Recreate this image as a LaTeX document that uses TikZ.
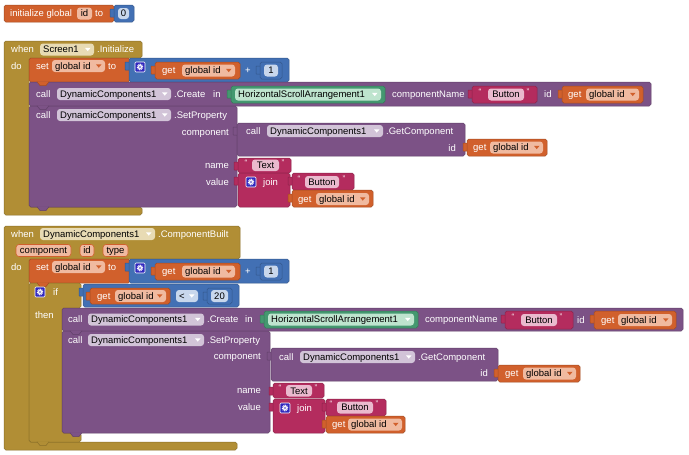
\documentclass[tikz,border=0pt]{standalone}
\usepackage{fontspec}
\setmainfont{Liberation Sans}
\definecolor{cOr}{RGB}{209,96,44}
\definecolor{cOrF}{RGB}{240,186,160}
\definecolor{cBl}{RGB}{66,112,180}
\definecolor{cBlF}{RGB}{200,215,236}
\definecolor{cPu}{RGB}{124,82,134}
\definecolor{cPuF}{RGB}{210,196,216}
\definecolor{cGr}{RGB}{68,152,112}
\definecolor{cGrF}{RGB}{190,228,206}
\definecolor{cPk}{RGB}{180,44,94}
\definecolor{cPkF}{RGB}{234,186,206}
\definecolor{cGo}{RGB}{177,142,53}
\definecolor{cGoF}{RGB}{232,219,180}
\definecolor{cGear}{RGB}{48,40,190}
\newcommand\fs{\fontsize{9.5}{11}\selectfont}
\tikzset{
  blk/.style={fill=#1, draw=#1!78!black, line width=0.5pt, rounded corners=1.8pt},
  lbl/.style={text=white, font=\fs, inner sep=0pt, text height=6.9pt, text depth=0pt, anchor=west},
  ftxt/.style={text=black, font=\fs, inner sep=0pt, text height=6.9pt, text depth=0pt},
  qt/.style={text=white, font=\fontsize{8}{9}\selectfont, inner sep=0pt},
}
\newcounter{nc}
% label
\newcommand\Lb[3][]{\stepcounter{nc}\node[lbl,#1] (n\arabic{nc}) at (#2) {#3};}
% centred field
\newcommand\Fd[6]{\fill[#1, rounded corners=3pt] (#2,#3) rectangle (#4,#5);
  \stepcounter{nc}\node[ftxt] (n\arabic{nc}) at ({(#2+#4)/2},{(#3+#5)/2}) {#6};}
% dropdown field
\newcommand\Dd[7]{\fill[#1, rounded corners=3pt] (#3,#4) rectangle (#5,#6);
  \stepcounter{nc}\node[ftxt, anchor=west] (n\arabic{nc}) at ({#3+3},{(#4+#6)/2}) {#7};
  \fill[#2] ({#5-9},{(#4+#6)/2-1.6}) -- ({#5-3.5},{(#4+#6)/2-1.6}) -- ({#5-6.25},{(#4+#6)/2+1.6}) -- cycle;}
% value block with output tab
\newcommand\Vb[5]{\path[blk=#1, rounded corners=0.5pt] ({#2-4},{#3+4}) rectangle ({#2+1},{#3+12});
  \path[blk=#1] (#2,#3) rectangle (#4,#5);}
% gear
\newcommand\Gear[2]{\filldraw[fill=cGear, draw=white, line width=0.7pt, rounded corners=1pt] (#1,#2) rectangle ({#1+10},{#2+10});
  \draw[white, line width=1.4pt, dash pattern=on 0.8pt off 0.8pt] ({#1+5},{#2+5}) circle (2.6pt);
  \fill[white] ({#1+5},{#2+5}) circle (2pt);
  \fill[cGear] ({#1+5},{#2+5}) circle (0.9pt);}
% quote mark
\newcommand\Qt[3]{\stepcounter{nc}\node[qt] (n\arabic{nc}) at (#1,#2) {#3};}
% statement nub
\newcommand\Nb[3]{\draw[fill=#1, draw=#1!78!black, line width=0.5pt] (#2,{#3-0.3}) -- ({#2+3},{#3+3.5}) -- ({#2+9},{#3+3.5}) -- ({#2+12},{#3-0.3});}
% parameter field
\newcommand\Pm[5]{\filldraw[fill=cOrF, draw=cOr, line width=0.6pt, rounded corners=3pt] (#1,#2) rectangle (#3,#4);
  \stepcounter{nc}\node[ftxt] (n\arabic{nc}) at ({(#1+#3)/2},{(#2+#4)/2}) {#5};}
\begin{document}
\begin{tikzpicture}[x=1pt,y=-1pt]
\useasboundingbox (0,0) rectangle (689,455);
\fill[white] (0,0) rectangle (689,455);

% ---------- initialize global ----------
\path[blk=cOr] (4,5) rectangle (114,22);
\Lb{10,13.5}{initialize global}
\Fd{cOrF}{77}{7.5}{92}{19.5}{id}
\Lb{95,13.5}{to}
\Vb{cBl}{114}{5}{134}{22}
\Fd{cBlF}{118}{8}{129}{19}{0}

% ---------- event 1 ----------
\path[blk=cGo] (4,41) -- (142,41) -- (142,58) -- (29,58) -- (29,207) -- (142,207) -- (142,215) -- (4,215) -- cycle;
\Lb{11,49.5}{when}
\Dd{cGoF}{white}{40}{43.5}{94}{55.5}{Screen1}
\Lb{97,49.5}{.Initialize}
\Lb{11,66}{do}

% set 1
\path[blk=cOr] (29,58) rectangle (130,82);
\Lb{36,66}{set}
\Dd{cOrF}{cOr}{52}{60}{105}{72}{global id}
\Lb{108,66}{to}
\Vb{cBl}{129}{58}{289}{82}
\Gear{135}{62}
\Vb{cOr}{155}{62}{240}{79}
\Lb{162,70.5}{get}
\Dd{cOrF}{cOr}{182}{64.5}{235}{76.5}{global id}
\Lb{245,70.5}{+}
\Vb{cBl}{260}{62}{282}{79}
\Fd{cBlF}{264}{64.5}{278}{76.5}{1}

% create 1
\path[blk=cPu] (29,82) rectangle (651,106);
\Nb{cOr}{37}{82}
\Lb{36,94}{call}
\Dd{cPuF}{white}{57}{88}{171}{100}{DynamicComponents1}
\Lb{174,94}{.Create}
\Lb{213,94}{in}
\Vb{cGr}{231}{86}{385}{103}
\Dd{cGrF}{white}{235}{88.5}{381}{100.5}{HorizontalScrollArrangement1}
\Lb{392,94}{componentName}
\Vb{cPk}{472}{86}{537}{103}
\Qt{480}{92}{“}
\Fd{cPkF}{488}{88.5}{524}{100.5}{Button}
\Qt{528}{92}{”}
\Lb{544,94.5}{id}
\Vb{cOr}{562}{86}{643}{103}
\Lb{568,94.5}{get}
\Dd{cOrF}{cOr}{586}{88.5}{639}{100.5}{global id}

% setproperty 1
\path[blk=cPu] (29,106) rectangle (237,207);
\Nb{cPu}{37}{106}
\Nb{cPu}{37}{207}
\Lb{36,115}{call}
\Dd{cPuF}{white}{57}{109}{171}{121}{DynamicComponents1}
\Lb{174,115}{.SetProperty}
\Lb[anchor=east]{229,132}{component}
\Lb[anchor=east]{229,165}{name}
\Lb[anchor=east]{229,182}{value}

\Vb{cPu}{237}{123}{465}{156}
\Lb{246,131}{call}
\Dd{cPuF}{white}{267}{125}{383}{137}{DynamicComponents1}
\Lb{386,131}{.GetComponent}
\Lb[anchor=east]{456,148}{id}
\Vb{cOr}{467}{139}{547}{156}
\Lb{473,147.5}{get}
\Dd{cOrF}{cOr}{490}{141.5}{543}{153.5}{global id}

\Vb{cPk}{238}{158}{291}{173}
\Qt{246}{163}{“}
\Fd{cPkF}{252}{159.5}{279}{171}{Text}
\Qt{283}{163}{”}

\Vb{cPk}{238}{173}{290}{207}
\Gear{246}{177}
\Lb{263,182}{join}
\Vb{cPk}{292}{173}{354}{190}
\Qt{299}{179}{“}
\Fd{cPkF}{305}{176}{339}{188}{Button}
\Qt{344}{179}{”}
\Vb{cOr}{292}{190}{373}{207}
\Lb{298,199}{get}
\Dd{cOrF}{cOr}{316}{193}{369}{205}{global id}

% ---------- event 2 ----------
\path[blk=cGo] (4,226) -- (240,226) -- (240,259) -- (29,259) -- (29,442) -- (237,442) -- (237,450) -- (4,450) -- cycle;
\Lb{11,234}{when}
\Dd{cGoF}{white}{40}{228}{155}{240}{DynamicComponents1}
\Lb{158,234}{.ComponentBuilt}
\Pm{16}{244.5}{71}{256.5}{component}
\Pm{80}{244.5}{94}{256.5}{id}
\Pm{103}{244.5}{128}{256.5}{type}
\Lb{11,267}{do}

% set 2
\path[blk=cOr] (29,259) rectangle (130,283);
\Lb{36,267}{set}
\Dd{cOrF}{cOr}{52}{261}{105}{273}{global id}
\Lb{108,267}{to}
\Vb{cBl}{129}{259}{289}{283}
\Gear{135}{263}
\Vb{cOr}{155}{263}{240}{280}
\Lb{162,271.5}{get}
\Dd{cOrF}{cOr}{182}{265.5}{235}{277.5}{global id}
\Lb{245,271.5}{+}
\Vb{cBl}{260}{263}{282}{280}
\Fd{cBlF}{264}{265.5}{278}{277.5}{1}

% if
\path[blk=cGo] (29,283) -- (81,283) -- (81,308) -- (62,308) -- (62,433) -- (81,433) -- (81,442) -- (29,442) -- cycle;
\Nb{cOr}{37}{283}
\Nb{cGo}{37}{442}
\Gear{35}{287}
\Lb{53,292}{if}
\Lb{35,315}{then}
\Vb{cBl}{83}{284}{239}{307}
\Vb{cOr}{90}{288}{170}{304}
\Lb{97,296}{get}
\Dd{cOrF}{cOr}{115}{290}{166}{302}{global id}
\Dd{cBlF}{white}{176}{290}{198}{302}{<}
\Vb{cBl}{207}{288}{232}{304}
\Fd{cBlF}{211}{290}{228}{302}{20}

% create 2
\path[blk=cPu] (62,308) rectangle (683,331);
\Lb{68,319.5}{call}
\Dd{cPuF}{white}{88}{313.5}{204}{325.5}{DynamicComponents1}
\Lb{207,319.5}{.Create}
\Lb{245,319.5}{in}
\Vb{cGr}{264}{311}{418}{328}
\Dd{cGrF}{white}{268}{313.5}{414}{325.5}{HorizontalScrollArrangement1}
\Lb{425,319.5}{componentName}
\Vb{cPk}{505}{311}{573}{329}
\Qt{513}{317}{“}
\Fd{cPkF}{521}{314}{557}{326}{Button}
\Qt{561}{317}{”}
\Lb{577,320}{id}
\Vb{cOr}{594}{311}{676}{329}
\Lb{601,320}{get}
\Dd{cOrF}{cOr}{618}{314}{672}{326}{global id}

% setproperty 2
\path[blk=cPu] (62,331) rectangle (270,433);
\Nb{cPu}{70}{331}
\Nb{cPu}{70}{433}
\Lb{68,340}{call}
\Dd{cPuF}{white}{88}{334}{204}{346}{DynamicComponents1}
\Lb{207,340}{.SetProperty}
\Lb[anchor=east]{261,356}{component}
\Lb[anchor=east]{261,390}{name}
\Lb[anchor=east]{261,407}{value}

\Vb{cPu}{271}{348}{498}{381}
\Lb{279,357}{call}
\Dd{cPuF}{white}{300}{351}{415}{363}{DynamicComponents1}
\Lb{418,357}{.GetComponent}
\Lb[anchor=east]{488,373}{id}
\Vb{cOr}{498}{365}{580}{382}
\Lb{505,373.5}{get}
\Dd{cOrF}{cOr}{523}{367.5}{576}{379.5}{global id}

\Vb{cPk}{273}{383}{324}{398}
\Qt{280}{388}{“}
\Fd{cPkF}{286}{385}{312}{396.5}{Text}
\Qt{316}{388}{”}

\Vb{cPk}{273}{399}{325}{433}
\Gear{280}{403}
\Lb{297,408}{join}
\Vb{cPk}{326}{399}{386}{416}
\Qt{331}{404}{“}
\Fd{cPkF}{337}{401.5}{373}{413.5}{Button}
\Qt{377}{404}{”}
\Vb{cOr}{326}{416}{405}{433}
\Lb{332,424.5}{get}
\Dd{cOrF}{cOr}{348}{418.5}{402}{430.5}{global id}
\end{tikzpicture}
\end{document}
